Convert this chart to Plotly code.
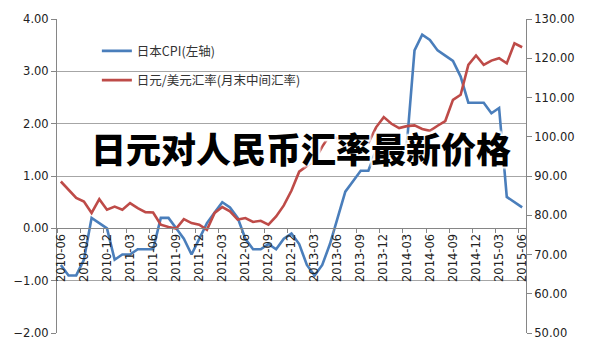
import plotly.graph_objects as go

months = [f"{y}-{m:02d}" for y in range(2010, 2016) for m in range(1, 13)]
months = months[5:5 + 61]  # 2010-06 .. 2015-06

cpi = [-0.7, -0.9, -0.9, -0.6, 0.2, 0.1, 0.0,
       -0.6, -0.5, -0.5, -0.4, -0.4, -0.4, 0.2, 0.2, 0.0, -0.2, -0.5, -0.2,
       0.1, 0.3, 0.5, 0.4, 0.2, -0.2, -0.4, -0.4, -0.3, -0.4, -0.2, -0.1,
       -0.3, -0.7, -0.9, -0.7, -0.3, 0.2, 0.7, 0.9, 1.1, 1.1, 1.5, 1.6,
       1.4, 1.5, 1.6, 3.4, 3.7, 3.6, 3.4, 3.3, 3.2, 2.9, 2.4, 2.4,
       2.4, 2.2, 2.3, 0.6, 0.5, 0.4]

jpy_usd = [88.6, 86.5, 84.4, 83.5, 80.6, 84.1, 81.4,
           82.2, 81.4, 83.1, 81.8, 80.8, 80.7, 77.6, 77.0, 76.6, 79.0, 78.0, 77.6,
           76.3, 80.6, 82.1, 81.0, 78.9, 79.3, 78.3, 78.6, 77.6, 79.7, 82.5, 86.3,
           91.1, 92.6, 94.0, 97.5, 100.5, 99.5, 98.0, 98.2, 98.3, 98.4, 102.4, 105.0,
           103.3, 102.2, 102.7, 102.9, 102.0, 101.5, 102.8, 104.0, 109.4, 110.7, 118.3, 120.7,
           118.3, 119.4, 120.0, 118.7, 123.8, 122.8]

name_cpi = "日本CPI(左轴)"
name_fx = "日元/美元汇率(月末中间汇率)"
title_text = "日元对人民币汇率最新价格"

num_font = dict(family="DejaVu Sans", size=11.5, color="#222222")
grid_c = "#a6a6a6"
axis_c = "#868686"

fig = go.Figure()
fig.add_trace(go.Scatter(x=months, y=cpi, name=name_cpi, mode="lines",
                         line=dict(color="#4a7ebb", width=2.6), legendgroup="a"))
fig.add_trace(go.Scatter(x=months, y=jpy_usd, name=name_fx, mode="lines", yaxis="y2",
                         line=dict(color="#be4b48", width=2.6), legendgroup="b"))

fig.update_layout(
    width=600, height=353,
    margin=dict(l=57, r=74, t=19, b=20),
    paper_bgcolor="white", plot_bgcolor="white",
    showlegend=True,
    legend=dict(x=0.085, y=0.945, xanchor="left", yanchor="top",
                bgcolor="rgba(0,0,0,0)", tracegroupgap=10,
                font=dict(family="Noto Sans CJK SC", size=12.5, color="#333333")),
    xaxis=dict(type="category", range=[-0.5, 60.5], tickmode="linear", tick0=0, dtick=3,
               tickson="boundaries", anchor="free", position=1/3,
               showline=True, linecolor=axis_c, linewidth=1,
               ticks="outside", ticklen=4, tickcolor=axis_c,
               tickangle=-90, tickfont=num_font, showgrid=False, zeroline=False),
    yaxis=dict(range=[-2, 4], dtick=1, tickformat=".2f", showgrid=True, gridcolor=grid_c,
               gridwidth=1, showline=True, linecolor=axis_c, ticks="outside", ticklen=5,
               tickcolor=axis_c, tickfont=num_font, zeroline=False),
    yaxis2=dict(range=[50, 130], dtick=10, tickformat=".2f", overlaying="y", side="right",
                showgrid=False, showline=True, linecolor=axis_c, ticks="outside", ticklen=5,
                tickcolor=axis_c, tickfont=num_font, zeroline=False),
)

fig.add_annotation(text=title_text, xref="paper", yref="paper", x=0.52, y=0.59,
                   xanchor="center", yanchor="middle", showarrow=False,
                   font=dict(family="Noto Sans CJK SC", size=35, color="black", weight=900,
                             shadow="2px 2px 2px white, -2px -2px 2px white, 2px -2px 2px white, -2px 2px 2px white"))

fig.write_html("out.html")
